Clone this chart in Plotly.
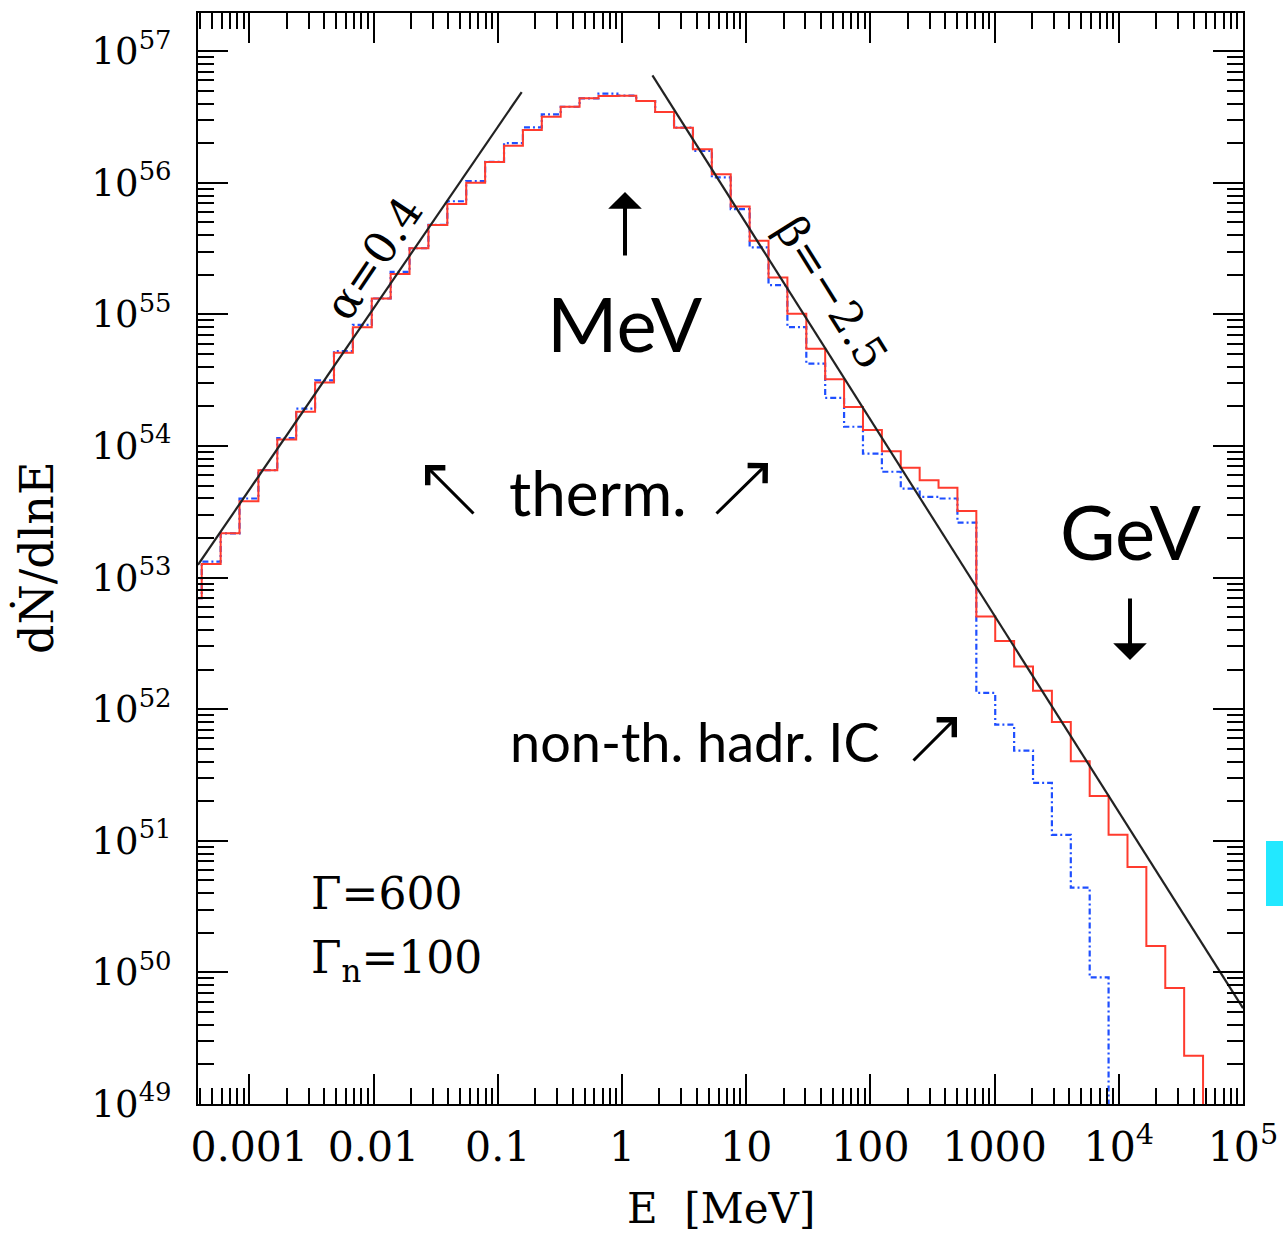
import plotly.graph_objects as go

# ---------------- data ----------------
# histogram bin edges (MeV), log-spaced bins
bin_edges = [2.92e-4, 4.14e-4, 5.88e-4, 8.34e-4, 1.184e-3, 1.680e-3, 2.385e-3, 3.386e-3,
             4.805e-3, 6.821e-3, 9.681e-3, 1.374e-2, 1.950e-2, 2.768e-2, 3.929e-2, 5.577e-2,
             7.916e-2, 0.1124, 0.1595, 0.2264, 0.3213, 0.4560, 0.6473, 0.9188, 1.304,
             1.851, 2.627, 3.729, 5.293, 7.513, 10.67, 15.14, 21.48, 30.50, 43.28, 61.43,
             87.20, 123.8, 175.7, 249.4, 353.9, 502.3, 713.0, 1012, 1437, 2039, 2894,
             4108, 5831, 8276, 11750, 16670, 23670, 33590, 47680, 67680]

# total spectrum (red, solid) per bin
total = [6.97e52, 1.27e53, 2.17e53, 3.81e53, 6.55e53, 1.12e54, 1.82e54, 3.03e54,
         5.11e54, 8.00e54, 1.32e55, 2.03e55, 3.18e55, 4.78e55, 6.89e55, 1.00e56,
         1.44e56, 1.91e56, 2.52e56, 3.18e56, 3.78e56, 4.38e56, 4.56e56, 4.59e56,
         4.18e56, 3.45e56, 2.62e56, 1.80e56, 1.16e56, 6.61e55, 3.63e55, 1.91e55,
         1.01e55, 5.47e54, 3.21e54, 1.98e54, 1.32e54, 9.12e53, 6.82e53, 5.50e53,
         4.81e53, 3.20e53, 5.06e52, 3.30e52, 2.11e52, 1.38e52, 8.00e51, 4.03e51,
         2.19e51, 1.11e51, 6.32e50, 1.59e50, 7.60e49, 2.33e49, 1.0e48]

# thermal-only spectrum (blue, dashed) per bin
thermal = [6.97e52, 1.32e53, 2.17e53, 3.99e53, 6.55e53, 1.15e54, 1.92e54, 3.15e54,
           5.26e54, 8.32e54, 1.32e55, 2.10e55, 3.18e55, 4.78e55, 7.24e55, 1.03e56,
           1.44e56, 2.00e56, 2.64e56, 3.31e56, 3.78e56, 4.38e56, 4.75e56, 4.59e56,
           4.18e56, 3.45e56, 2.62e56, 1.75e56, 1.10e56, 6.31e55, 3.23e55, 1.67e55,
           8.00e54, 4.22e54, 2.32e54, 1.40e54, 8.75e53, 6.37e53, 4.75e53, 4.11e53,
           3.99e53, 2.62e53, 1.33e52, 7.62e51, 4.84e51, 2.75e51, 1.11e51, 4.41e50,
           9.16e49, 1.0e47]

# power-law guide lines (end points)
alpha_E = [3.86e-4, 0.156]
alpha_N = [1.25e53, 4.89e56]
beta_E = [1.76, 1.0e5]
beta_N = [6.55e56, 5.35e49]

x_tickvals = [1e-3, 1e-2, 1e-1, 1, 10, 100, 1000, 1e4, 1e5]
x_ticktext = ["0.001", "0.01", "0.1", "1", "10", "100", "1000", "10<sup>4</sup>", "10<sup>5</sup>"]
y_tickvals = [1e49, 1e50, 1e51, 1e52, 1e53, 1e54, 1e55, 1e56, 1e57]
y_ticktext = ["10<sup>49</sup>", "10<sup>50</sup>", "10<sup>51</sup>", "10<sup>52</sup>",
              "10<sup>53</sup>", "10<sup>54</sup>", "10<sup>55</sup>", "10<sup>56</sup>",
              "10<sup>57</sup>"]

# ---------------- layout helpers ----------------
W, H = 1283, 1233
L, R, T, B = 198, 1243, 13, 1104


def px(x):
    return (x - L) / (R - L)


def py(y):
    return (B - y) / (B - T)


def steps(edges, vals):
    xs = list(edges[:len(vals)]) + [edges[len(vals)]]
    ys = list(vals) + [vals[-1]]
    return xs, ys


fig = go.Figure()

bx, by = steps(bin_edges, thermal)
fig.add_trace(go.Scatter(x=bx, y=by, mode="lines", line_shape="hv",
                         line=dict(color="#1f4fff", width=2.2, dash="6px,3px,2px,3px"),
                         showlegend=False, hoverinfo="skip"))
rx, ry = steps(bin_edges, total)
fig.add_trace(go.Scatter(x=rx, y=ry, mode="lines", line_shape="hv",
                         line=dict(color="#ff3b2e", width=2),
                         showlegend=False, hoverinfo="skip"))
fig.add_trace(go.Scatter(x=alpha_E, y=alpha_N, mode="lines",
                         line=dict(color="#222222", width=2.2), showlegend=False, hoverinfo="skip"))
fig.add_trace(go.Scatter(x=beta_E, y=beta_N, mode="lines",
                         line=dict(color="#222222", width=2.2), showlegend=False, hoverinfo="skip"))

axis_common = dict(showline=True, linecolor="black", linewidth=2, mirror="allticks",
                   ticks="inside", ticklen=30, tickwidth=2, tickcolor="black",
                   showgrid=False, zeroline=False, automargin=False,
                   minor=dict(ticks="inside", ticklen=16, tickwidth=2, tickcolor="black",
                              dtick="D1", showgrid=False))

fig.update_xaxes(type="log", range=[-3.413, 5.0], tickvals=x_tickvals, ticktext=x_ticktext,
                 ticklabelstandoff=6,
                 tickfont=dict(family="DejaVu Serif", size=41, color="black"), **axis_common)
fig.update_yaxes(type="log", range=[49.0, 57.29], tickvals=y_tickvals, ticktext=y_ticktext,
                 ticklabelstandoff=17,
                 tickfont=dict(family="DejaVu Serif", size=37, color="black"), **axis_common)

serif = "DejaVu Serif"
sans = "Lato"
ann = []


def text(x, y, s, fam, size, angle=0, xanchor="center"):
    ann.append(dict(x=px(x), y=py(y), xref="paper", yref="paper", text=s, showarrow=False,
                    font=dict(family=fam, size=size, color="black"), textangle=angle,
                    xanchor=xanchor, yanchor="middle"))


def arrow(x0, y0, x1, y1, head, width, size):
    ann.append(dict(x=px(x1), y=py(y1), xref="paper", yref="paper", text="",
                    showarrow=True, ax=x0 - x1, ay=y0 - y1, axref="pixel", ayref="pixel",
                    arrowhead=head, arrowwidth=width, arrowsize=size, arrowcolor="black"))


text(721, 1208, "E  [MeV]", serif, 42)
text(36, 558, "dṄ/dlnE", serif, 46, angle=-90)
text(373, 258, "α=0.4", serif, 44, angle=-56)
text(832, 292, "β=−2.5", serif, 44, angle=58)
text(625, 322, "MeV", sans, 76)
text(1130, 530, "GeV", sans, 76)
text(598, 492, "therm.", sans, 62)
text(695, 742, "non-th. hadr. IC", sans, 54)
text(309, 893, "Γ=600", serif, 44, xanchor="left")
text(309, 960, "Γ<sub>n</sub>=100", serif, 44, xanchor="left")

arrow(625, 257, 625, 192, 1, 4, 1.4)
arrow(1130, 597, 1130, 660, 1, 4, 1.4)
arrow(475, 515, 425, 465, 4, 3, 1.6)
arrow(715, 515, 768, 463, 4, 3, 1.6)
arrow(912, 762, 957, 717, 4, 3, 1.6)

fig.update_layout(
    width=W, height=H,
    margin=dict(l=L, r=W - R, t=T, b=H - B, pad=0, autoexpand=False),
    paper_bgcolor="white", plot_bgcolor="white",
    annotations=ann,
    shapes=[dict(type="rect", xref="paper", yref="paper",
                 x0=px(1266), x1=px(1283), y0=py(906), y1=py(841),
                 fillcolor="#22e8ff", line=dict(width=0))],
)

fig.write_html("out.html", config={"displayModeBar": False},
               post_script="document.body.style.margin='0';document.body.style.overflow='hidden';")
